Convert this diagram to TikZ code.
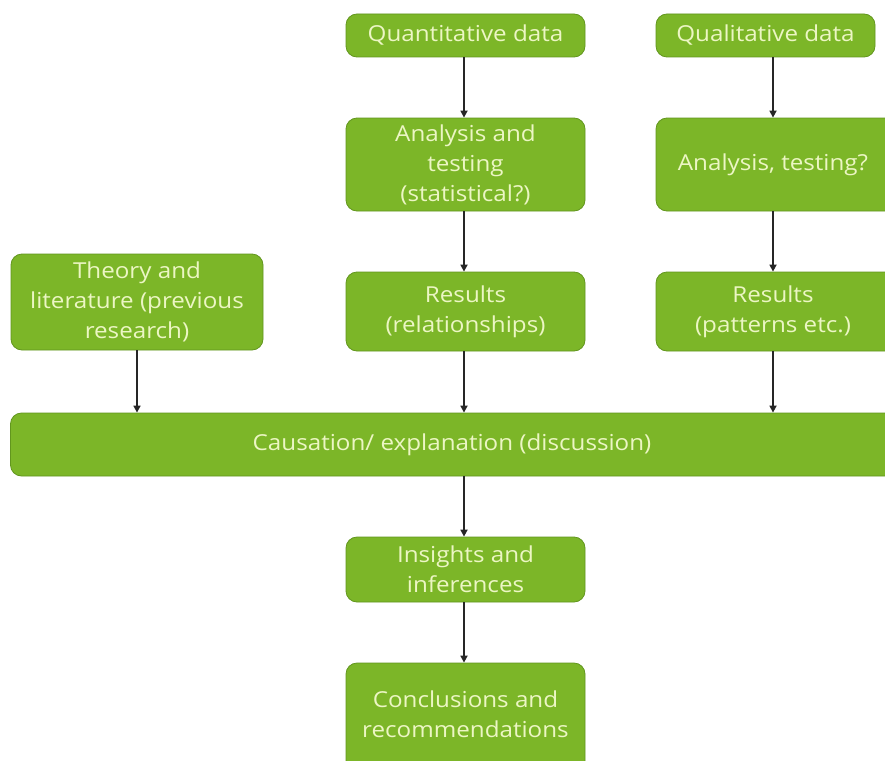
\documentclass[tikz,border=0pt]{standalone}
\usepackage{fontspec}
\setmainfont{Open Sans}[FakeStretch=1.1]
\usetikzlibrary{arrows.meta}
\definecolor{boxgreen}{RGB}{124,182,40}
\definecolor{boxedge}{RGB}{98,150,30}
\definecolor{boxtext}{RGB}{236,246,196}
\tikzset{
  box/.style={draw=boxedge, line width=0.8pt, fill=boxgreen, rounded corners=11pt,
    text=boxtext, font=\fontsize{22}{30}\selectfont, align=center, inner sep=0pt},
  flow/.style={draw=black!85, line width=1.6pt, -{Triangle[length=7pt,width=7pt]}}
}
\begin{document}
\begin{tikzpicture}[x=1pt,y=-1pt]
\useasboundingbox[fill=white] (0,0) rectangle (885,760);
% quantitative branch
\node[box, minimum width=239pt, minimum height=43pt] (quant) at (465.5,35.5) {Quantitative data};
\node[box, minimum width=239pt, minimum height=93pt] (qanal) at (465.5,164.5) {Analysis and\\testing\\(statistical?)};
\node[box, minimum width=239pt, minimum height=79pt] (qres) at (465.5,311.5) {Results\\(relationships)};
% qualitative branch
\node[box, minimum width=219pt, minimum height=43pt] (qual) at (765.5,35.5) {Qualitative data};
\node[box, minimum width=240pt, minimum height=93pt] (lanal) at (776,164.5) {};
\node[box, draw=none, fill=none] (lanaltext) at (773,164.5) {Analysis, testing?};
\node[box, minimum width=240pt, minimum height=79pt] (lres) at (776,311.5) {};
\node[box, draw=none, fill=none] (lrestext) at (773,311.5) {Results\\(patterns etc.)};
% theory
\node[box, minimum width=252pt, minimum height=96pt] (theory) at (137,302) {Theory and\\literature (previous\\research)};
% discussion band
\node[box, minimum width=885pt, minimum height=63pt] (cause) at (453,444.5) {};
\node[box, draw=none, fill=none] (causetext) at (452,444.5) {Causation/ explanation (discussion)};
% outcomes
\node[box, minimum width=239pt, minimum height=65pt] (insight) at (465.5,569.5) {Insights and\\inferences};
\node[box, minimum width=239pt, minimum height=110pt] (concl) at (465.5,718) {};
\node[box, draw=none, fill=none] (concltext) at (465.5,714) {Conclusions and\\recommendations};
% connectors
\draw[flow] (quant.south -| 464,0) -- (qanal.north -| 464,0);
\draw[flow] (qanal.south -| 464,0) -- (qres.north -| 464,0);
\draw[flow] (qres.south -| 464,0) -- (cause.north -| 464,0);
\draw[flow] (qual.south -| 773,0) -- (lanal.north -| 773,0);
\draw[flow] (lanal.south -| 773,0) -- (lres.north -| 773,0);
\draw[flow] (lres.south -| 773,0) -- (cause.north -| 773,0);
\draw[flow] (theory.south) -- (cause.north -| theory.south);
\draw[flow] (cause.south -| 464,0) -- (insight.north -| 464,0);
\draw[flow] (insight.south -| 464,0) -- (concl.north -| 464,0);
\end{tikzpicture}
\end{document}
